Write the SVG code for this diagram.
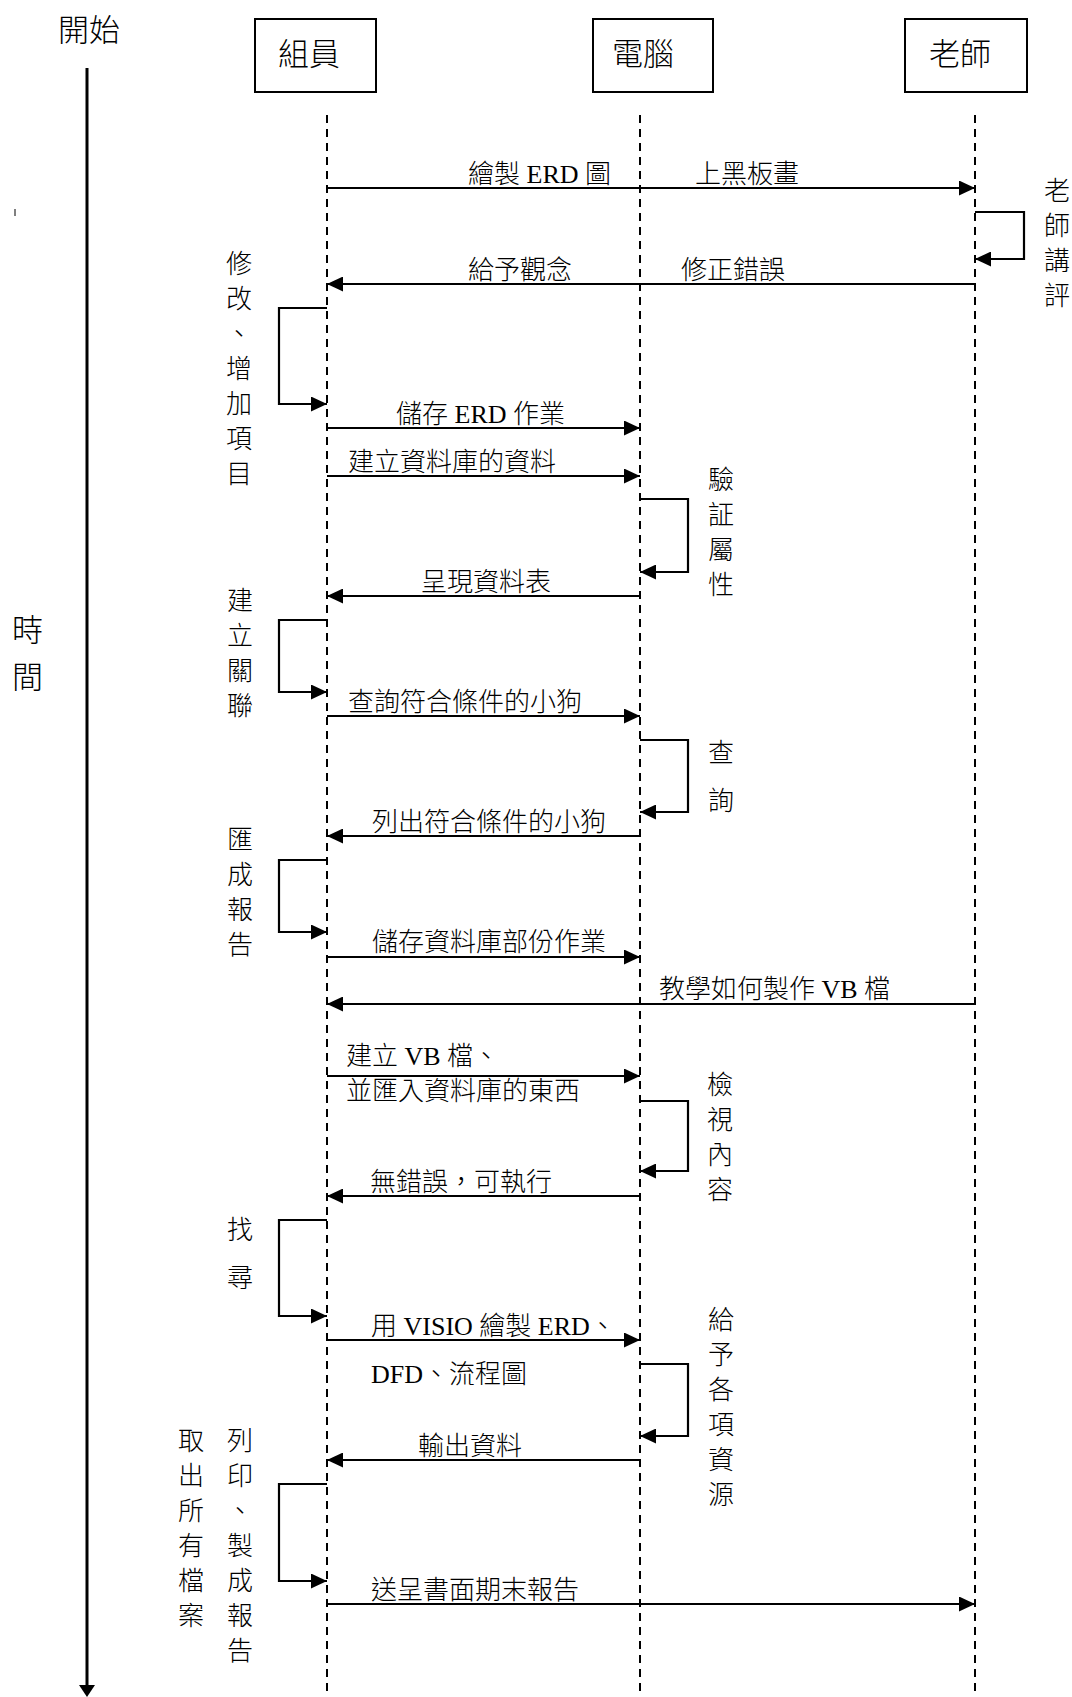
<svg xmlns="http://www.w3.org/2000/svg" width="1072" height="1697" viewBox="0 0 1072 1697">
<defs>
<style>
.t{font-family:"Liberation Serif","Noto Sans CJK TC",serif;font-size:26px;font-weight:300;fill:#000}
.tt{font-family:"Liberation Serif","Noto Sans CJK TC",serif;font-size:31px;font-weight:300;fill:#000}
.v{font-family:"Liberation Serif","Noto Sans CJK TC",serif;font-size:26px;font-weight:300;fill:#000;text-anchor:middle}
.box{fill:#fff;stroke:#000;stroke-width:2}
.life{stroke:#000;stroke-width:2;stroke-dasharray:8 6;fill:none}
.msg{stroke:#000;stroke-width:2.2;fill:none;marker-end:url(#ah)}
</style>
<marker id="ah" markerWidth="16" markerHeight="15" refX="16" refY="7.5" orient="auto" markerUnits="userSpaceOnUse"><path d="M0,0 L16,7.5 L0,15 Z" fill="#000"/></marker>
</defs>
<rect width="1072" height="1697" fill="#fff"/>

<g id="time-axis">
<text class="tt" x="58" y="41">開始</text>
<line x1="87" y1="68" x2="87" y2="1686" stroke="#000" stroke-width="3"/>
<path d="M79,1685 L95,1685 L87,1697 Z" fill="#000"/>
<text class="tt" x="12" y="641">時</text>
<text class="tt" x="12" y="688">間</text>
<line x1="15" y1="209" x2="15" y2="216" stroke="#000" stroke-width="1"/>
</g>

<g id="node-member">
<rect class="box" x="255" y="19" width="121" height="73"/>
<text class="tt" x="278" y="65">組員</text>
<line class="life" x1="327" y1="115" x2="327" y2="1697"/>
</g>
<g id="node-computer">
<rect class="box" x="593" y="19" width="120" height="73"/>
<text class="tt" x="612" y="65">電腦</text>
<line class="life" x1="640" y1="115" x2="640" y2="1697"/>
</g>
<g id="node-teacher">
<rect class="box" x="905" y="19" width="122" height="73"/>
<text class="tt" x="929" y="65">老師</text>
<line class="life" x1="975" y1="115" x2="975" y2="1697"/>
</g>

<g id="connectors">
<line class="msg" x1="327" y1="188" x2="975" y2="188"/>
<path class="msg" d="M975,212 H1024 V259 H975"/>
<line class="msg" x1="975" y1="284" x2="327" y2="284"/>
<path class="msg" d="M327,308 H279 V404 H327"/>
<line class="msg" x1="327" y1="428" x2="640" y2="428"/>
<line class="msg" x1="327" y1="476" x2="640" y2="476"/>
<path class="msg" d="M640,499 H688 V572 H640"/>
<line class="msg" x1="640" y1="596" x2="327" y2="596"/>
<path class="msg" d="M327,620 H279 V692 H327"/>
<line class="msg" x1="327" y1="716" x2="640" y2="716"/>
<path class="msg" d="M640,740 H688 V812 H640"/>
<line class="msg" x1="640" y1="836" x2="327" y2="836"/>
<path class="msg" d="M327,860 H279 V932 H327"/>
<line class="msg" x1="327" y1="957" x2="640" y2="957"/>
<line class="msg" x1="975" y1="1004" x2="327" y2="1004"/>
<line class="msg" x1="327" y1="1076" x2="640" y2="1076"/>
<path class="msg" d="M640,1101 H688 V1171 H640"/>
<line class="msg" x1="640" y1="1196" x2="327" y2="1196"/>
<path class="msg" d="M327,1220 H279 V1316 H327"/>
<line class="msg" x1="327" y1="1340" x2="640" y2="1340"/>
<path class="msg" d="M640,1364 H688 V1436 H640"/>
<line class="msg" x1="640" y1="1460" x2="327" y2="1460"/>
<path class="msg" d="M327,1484 H279 V1581 H327"/>
<line class="msg" x1="327" y1="1604" x2="975" y2="1604"/>
</g>

<g id="message-labels">
<text class="t" x="468" y="183">繪製 ERD 圖</text>
<text class="t" x="695" y="183">上黑板畫</text>
<text class="t" x="468" y="279">給予觀念</text>
<text class="t" x="681" y="279">修正錯誤</text>
<text class="t" x="396" y="423">儲存 ERD 作業</text>
<text class="t" x="348" y="471">建立資料庫的資料</text>
<text class="t" x="421" y="591">呈現資料表</text>
<text class="t" x="348" y="711">查詢符合條件的小狗</text>
<text class="t" x="372" y="831">列出符合條件的小狗</text>
<text class="t" x="372" y="951">儲存資料庫部份作業</text>
<text class="t" x="659" y="998">教學如何製作 VB 檔</text>
<text class="t" x="346" y="1065">建立 VB 檔、</text>
<text class="t" x="346" y="1100">並匯入資料庫的東西</text>
<text class="t" x="370" y="1191">無錯誤，可執行</text>
<text class="t" x="371" y="1335">用 VISIO 繪製 ERD、</text>
<text class="t" x="371" y="1383">DFD、流程圖</text>
<text class="t" x="418" y="1455">輸出資料</text>
<text class="t" x="371" y="1599">送呈書面期末報告</text>
</g>

<g id="activity-labels">
<g id="teacher-review">
<text class="v" x="1057" y="200">老</text><text class="v" x="1057" y="235">師</text><text class="v" x="1057" y="270">講</text><text class="v" x="1057" y="305">評</text>
</g>
<g id="modify-add">
<text class="v" x="239" y="273">修</text><text class="v" x="239" y="308">改</text><text class="v" x="239" y="343">、</text><text class="v" x="239" y="378">增</text><text class="v" x="239" y="413">加</text><text class="v" x="239" y="448">項</text><text class="v" x="239" y="483">目</text>
</g>
<g id="verify">
<text class="v" x="721" y="489">驗</text><text class="v" x="721" y="524">証</text><text class="v" x="721" y="559">屬</text><text class="v" x="721" y="594">性</text>
</g>
<g id="relate">
<text class="v" x="240" y="610">建</text><text class="v" x="240" y="645">立</text><text class="v" x="240" y="680">關</text><text class="v" x="240" y="715">聯</text>
</g>
<g id="query">
<text class="v" x="721" y="762">查</text><text class="v" x="721" y="810">詢</text>
</g>
<g id="report">
<text class="v" x="240" y="849">匯</text><text class="v" x="240" y="884">成</text><text class="v" x="240" y="919">報</text><text class="v" x="240" y="954">告</text>
</g>
<g id="inspect">
<text class="v" x="720" y="1094">檢</text><text class="v" x="720" y="1129">視</text><text class="v" x="720" y="1164">內</text><text class="v" x="720" y="1199">容</text>
</g>
<g id="search">
<text class="v" x="240" y="1239">找</text><text class="v" x="240" y="1287">尋</text>
</g>
<g id="resources">
<text class="v" x="721" y="1329">給</text><text class="v" x="721" y="1364">予</text><text class="v" x="721" y="1399">各</text><text class="v" x="721" y="1434">項</text><text class="v" x="721" y="1469">資</text><text class="v" x="721" y="1504">源</text>
</g>
<g id="print">
<text class="v" x="240" y="1450">列</text><text class="v" x="240" y="1485">印</text><text class="v" x="240" y="1520">、</text><text class="v" x="240" y="1555">製</text><text class="v" x="240" y="1590">成</text><text class="v" x="240" y="1625">報</text><text class="v" x="240" y="1660">告</text>
</g>
<g id="fetch">
<text class="v" x="191" y="1450">取</text><text class="v" x="191" y="1485">出</text><text class="v" x="191" y="1520">所</text><text class="v" x="191" y="1555">有</text><text class="v" x="191" y="1590">檔</text><text class="v" x="191" y="1625">案</text>
</g>
</g>
</svg>
